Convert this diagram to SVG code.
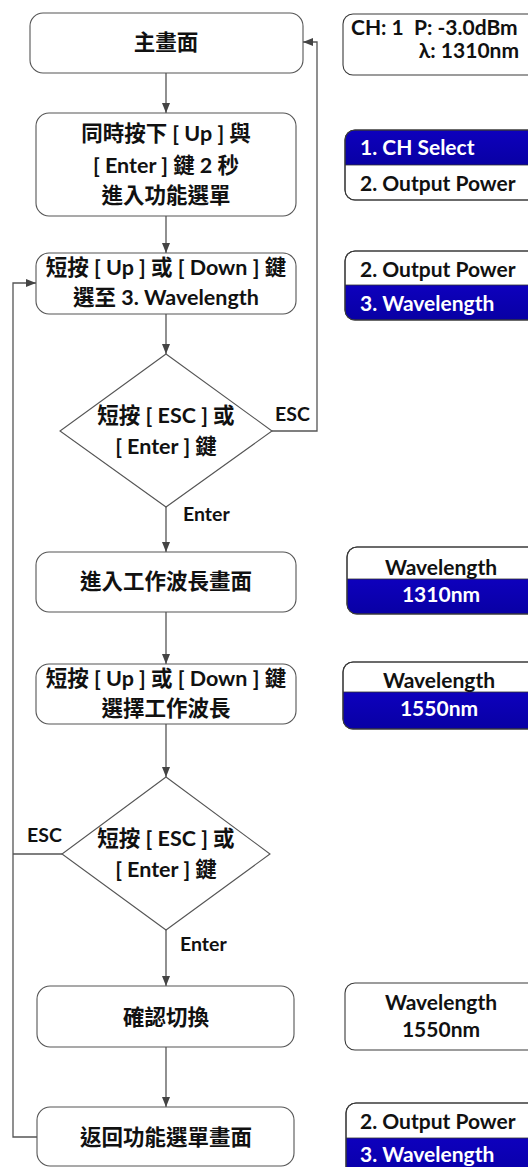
<svg xmlns="http://www.w3.org/2000/svg" width="528" height="1167" viewBox="0 0 528 1167">
<defs>
<style>
.box{fill:#fff;stroke:#555;stroke-width:1.1}
.scr{fill:#fff;stroke:#3a3a3a;stroke-width:1.1}
.band{fill:url(#blue);stroke:#333;stroke-width:0.8}
.t{font-family:"Lato","Noto Sans CJK TC",sans-serif;font-weight:bold;font-size:21.5px;fill:#111;text-anchor:middle}
.s{font-family:"Lato","Noto Sans CJK TC",sans-serif;font-weight:bold;font-size:21px;fill:#111}
.w{fill:#fff}
.lbl{font-family:"Lato","Noto Sans CJK TC",sans-serif;font-weight:bold;font-size:19.5px;fill:#111}
.c{fill:none;stroke:#555;stroke-width:1.3}
</style>
<linearGradient id="blue" x1="0" y1="0" x2="0" y2="1">
<stop offset="0" stop-color="#0e00bd"/>
<stop offset="1" stop-color="#0800a4"/>
</linearGradient>
<marker id="arr" markerUnits="userSpaceOnUse" markerWidth="10" markerHeight="10" viewBox="0 0 10 10" refX="10" refY="5" orient="auto">
<path d="M0,1 L10,5 L0,9 Z" fill="#444"/>
</marker>
<clipPath id="cR2"><rect x="345" y="130" width="200" height="70" rx="10"/></clipPath>
<clipPath id="cR3"><rect x="345" y="251" width="200" height="69" rx="10"/></clipPath>
<clipPath id="cR4"><rect x="347" y="547" width="200" height="67" rx="10"/></clipPath>
<clipPath id="cR5"><rect x="343" y="662" width="200" height="67" rx="10"/></clipPath>
<clipPath id="cR7"><rect x="346" y="1103" width="200" height="80" rx="10"/></clipPath>
</defs>

<g id="connectors">
<path class="c" d="M166,73 V113" marker-end="url(#arr)"/>
<path class="c" d="M166,216 V253" marker-end="url(#arr)"/>
<path class="c" d="M166,314 V354" marker-end="url(#arr)"/>
<path class="c" d="M272,431 H317 V42 H303" marker-end="url(#arr)"/>
<path class="c" d="M166,507 V552" marker-end="url(#arr)"/>
<path class="c" d="M166,612 V664" marker-end="url(#arr)"/>
<path class="c" d="M166,724 V777" marker-end="url(#arr)"/>
<path class="c" d="M62,854 H13"/>
<path class="c" d="M37,1137 H13 V283 H36" marker-end="url(#arr)"/>
<path class="c" d="M166,930 V986" marker-end="url(#arr)"/>
<path class="c" d="M166,1047 V1107" marker-end="url(#arr)"/>
<text class="lbl" x="275" y="421">ESC</text>
<text class="lbl" x="183" y="521">Enter</text>
<text class="lbl" x="27" y="842">ESC</text>
<text class="lbl" x="180" y="951">Enter</text>
</g>

<g id="main">
<rect class="box" x="30" y="13" width="273" height="60" rx="13"/>
<text class="t" x="166" y="50">主畫面</text>
</g>
<g id="enter-menu">
<rect class="box" x="36" y="113" width="260" height="103" rx="13"/>
<text class="t" x="166" y="141">同時按下 [ Up ] 與</text>
<text class="t" x="166" y="173">[ Enter ] 鍵 2 秒</text>
<text class="t" x="166" y="203">進入功能選單</text>
</g>
<g id="select-wavelength">
<rect class="box" x="36" y="253" width="260" height="61" rx="13"/>
<text class="t" x="166" y="275">短按 [ Up ] 或 [ Down ] 鍵</text>
<text class="t" x="166" y="305">選至 3. Wavelength</text>
</g>
<g id="decision1">
<polygon class="box" points="166,354 272,431 166,507 60,431"/>
<text class="t" x="166" y="423">短按 [ ESC ] 或</text>
<text class="t" x="166" y="454">[ Enter ] 鍵</text>
</g>
<g id="wavelength-screen">
<rect class="box" x="36" y="552" width="260" height="60" rx="13"/>
<text class="t" x="166" y="589">進入工作波長畫面</text>
</g>
<g id="choose-wavelength">
<rect class="box" x="36" y="664" width="260" height="60" rx="13"/>
<text class="t" x="166" y="686">短按 [ Up ] 或 [ Down ] 鍵</text>
<text class="t" x="166" y="716">選擇工作波長</text>
</g>
<g id="decision2">
<polygon class="box" points="166,777 270,854 166,930 62,854"/>
<text class="t" x="166" y="846">短按 [ ESC ] 或</text>
<text class="t" x="166" y="877">[ Enter ] 鍵</text>
</g>
<g id="confirm">
<rect class="box" x="37" y="986" width="257" height="61" rx="13"/>
<text class="t" x="166" y="1025">確認切換</text>
</g>
<g id="return-menu">
<rect class="box" x="37" y="1107" width="257" height="59" rx="13"/>
<text class="t" x="166" y="1145">返回功能選單畫面</text>
</g>

<g id="screen-main">
<rect class="scr" x="343" y="14" width="200" height="61" rx="10"/>
<text class="s" x="351" y="35" font-size="17" xml:space="preserve">CH: 1  P: -3.0dBm</text>
<text class="s" x="519" y="58" font-size="17" text-anchor="end">λ: 1310nm</text>
</g>
<g id="screen-menu1">
<rect class="scr" x="345" y="130" width="200" height="70" rx="10"/>
<rect class="band" x="345" y="130" width="200" height="35" clip-path="url(#cR2)"/>
<rect x="345" y="130" width="200" height="70" rx="10" fill="none" stroke="#3a3a3a" stroke-width="1.1"/>
<text class="s w" x="360" y="155">1. CH Select</text>
<text class="s" x="360" y="191">2. Output Power</text>
</g>
<g id="screen-menu2">
<rect class="scr" x="345" y="251" width="200" height="69" rx="10"/>
<rect class="band" x="345" y="285" width="200" height="35" clip-path="url(#cR3)"/>
<rect x="345" y="251" width="200" height="69" rx="10" fill="none" stroke="#3a3a3a" stroke-width="1.1"/>
<text class="s" x="360" y="277">2. Output Power</text>
<text class="s w" x="360" y="311">3. Wavelength</text>
</g>
<g id="screen-wl1310">
<rect class="scr" x="347" y="547" width="200" height="67" rx="10"/>
<rect class="band" x="347" y="579" width="200" height="35" clip-path="url(#cR4)"/>
<rect x="347" y="547" width="200" height="67" rx="10" fill="none" stroke="#3a3a3a" stroke-width="1.1"/>
<text class="s" x="441" y="575" text-anchor="middle">Wavelength</text>
<text class="s w" x="441" y="602" text-anchor="middle">1310nm</text>
</g>
<g id="screen-wl1550">
<rect class="scr" x="343" y="662" width="200" height="67" rx="10"/>
<rect class="band" x="343" y="692" width="200" height="37" clip-path="url(#cR5)"/>
<rect x="343" y="662" width="200" height="67" rx="10" fill="none" stroke="#3a3a3a" stroke-width="1.1"/>
<text class="s" x="439" y="688" text-anchor="middle">Wavelength</text>
<text class="s w" x="439" y="716" text-anchor="middle">1550nm</text>
</g>
<g id="screen-confirm">
<rect class="scr" x="345" y="983" width="200" height="67" rx="10"/>
<text class="s" x="441" y="1010" text-anchor="middle">Wavelength</text>
<text class="s" x="441" y="1037" text-anchor="middle">1550nm</text>
</g>
<g id="screen-menu3">
<rect class="scr" x="346" y="1103" width="200" height="80" rx="10"/>
<rect class="band" x="346" y="1138" width="200" height="45" clip-path="url(#cR7)"/>
<rect x="346" y="1103" width="200" height="80" rx="10" fill="none" stroke="#3a3a3a" stroke-width="1.1"/>
<text class="s" x="360" y="1129">2. Output Power</text>
<text class="s w" x="360" y="1162">3. Wavelength</text>
</g>
</svg>
